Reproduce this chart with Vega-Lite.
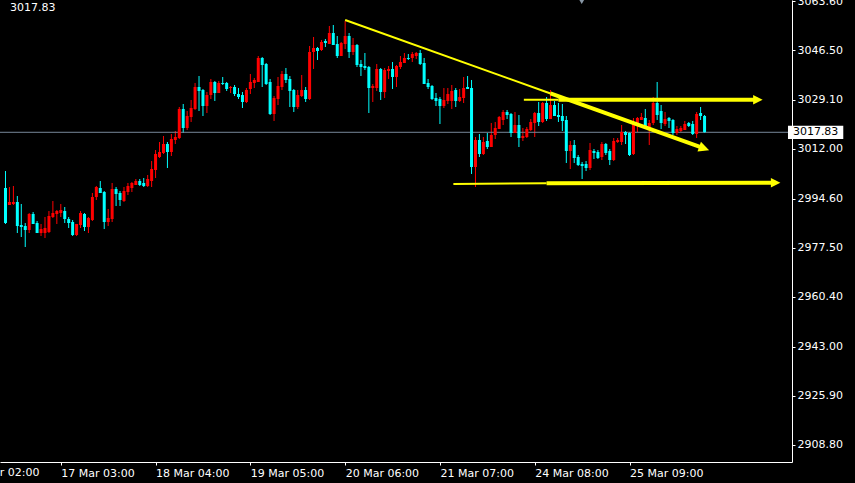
{
  "$schema": "https://vega.github.io/schema/vega-lite/v6.json",
  "width": 792,
  "height": 462,
  "autosize": {"type": "none"},
  "padding": {"left": 0, "top": 0, "right": 63, "bottom": 21},
  "background": "#000000",
  "config": {
    "view": {"stroke": null},
    "axis": {
      "labelFont": "DejaVu Sans",
      "labelFontSize": 11,
      "labelColor": "#ffffff",
      "domainColor": "#ffffff",
      "tickColor": "#ffffff",
      "grid": false,
      "tickSize": 3,
      "labelPadding": 2
    }
  },
  "datasets": {
    "candles": [
      {"t":0,"o":2998.38,"h":3004.31,"l":2985.82,"c":2986.16},
      {"t":1,"o":2992.45,"h":2998.73,"l":2992.45,"c":2993.49},
      {"t":2,"o":2992.80,"h":2999.08,"l":2992.45,"c":2993.49},
      {"t":3,"o":2993.49,"h":2995.59,"l":2982.67,"c":2985.12},
      {"t":4,"o":2985.47,"h":2992.80,"l":2981.28,"c":2984.77},
      {"t":5,"o":2985.12,"h":2986.16,"l":2977.79,"c":2983.72},
      {"t":6,"o":2983.72,"h":2989.65,"l":2982.67,"c":2989.31},
      {"t":7,"o":2989.31,"h":2990.00,"l":2985.82,"c":2985.82},
      {"t":8,"o":2986.16,"h":2986.86,"l":2982.67,"c":2982.67},
      {"t":9,"o":2982.67,"h":2985.82,"l":2981.63,"c":2984.07},
      {"t":10,"o":2982.67,"h":2988.26,"l":2980.93,"c":2984.42},
      {"t":11,"o":2983.02,"h":2990.35,"l":2982.67,"c":2988.61},
      {"t":12,"o":2988.26,"h":2993.84,"l":2987.91,"c":2989.65},
      {"t":13,"o":2989.31,"h":2990.70,"l":2985.82,"c":2990.35},
      {"t":14,"o":2989.65,"h":2992.80,"l":2988.26,"c":2990.70},
      {"t":15,"o":2990.35,"h":2991.75,"l":2986.16,"c":2987.56},
      {"t":16,"o":2987.56,"h":2988.26,"l":2984.42,"c":2986.16},
      {"t":17,"o":2986.51,"h":2987.21,"l":2981.63,"c":2981.98},
      {"t":18,"o":2981.98,"h":2985.82,"l":2981.63,"c":2985.82},
      {"t":19,"o":2985.47,"h":2990.35,"l":2984.42,"c":2989.65},
      {"t":20,"o":2989.31,"h":2989.65,"l":2983.37,"c":2984.77},
      {"t":21,"o":2984.77,"h":2988.26,"l":2982.67,"c":2987.91},
      {"t":22,"o":2987.21,"h":2996.64,"l":2986.86,"c":2995.24},
      {"t":23,"o":2995.24,"h":2999.08,"l":2994.19,"c":2998.73},
      {"t":24,"o":2998.38,"h":3000.82,"l":2996.64,"c":2996.64},
      {"t":25,"o":2996.98,"h":2997.33,"l":2984.07,"c":2986.51},
      {"t":26,"o":2986.51,"h":2991.05,"l":2985.12,"c":2987.91},
      {"t":27,"o":2987.56,"h":3000.13,"l":2986.51,"c":2998.03},
      {"t":28,"o":2998.03,"h":2998.73,"l":2992.10,"c":2996.29},
      {"t":29,"o":2996.64,"h":2997.33,"l":2992.10,"c":2994.19},
      {"t":30,"o":2993.84,"h":2998.73,"l":2993.49,"c":2997.33},
      {"t":31,"o":2996.98,"h":3000.13,"l":2995.94,"c":2999.08},
      {"t":32,"o":2998.38,"h":3000.47,"l":2996.98,"c":3000.13},
      {"t":33,"o":2999.43,"h":3001.52,"l":2999.43,"c":3000.82},
      {"t":34,"o":3000.82,"h":3001.52,"l":2999.08,"c":2999.43},
      {"t":35,"o":3000.13,"h":3001.87,"l":2998.73,"c":2999.08},
      {"t":36,"o":2999.08,"h":3002.92,"l":2998.73,"c":3001.52},
      {"t":37,"o":3000.82,"h":3007.80,"l":2998.73,"c":3005.01},
      {"t":38,"o":3004.66,"h":3011.64,"l":3001.87,"c":3010.25},
      {"t":39,"o":3009.20,"h":3014.44,"l":3008.85,"c":3010.95},
      {"t":40,"o":3010.60,"h":3016.53,"l":3010.25,"c":3013.74},
      {"t":41,"o":3013.74,"h":3014.44,"l":3005.36,"c":3010.95},
      {"t":42,"o":3010.95,"h":3017.23,"l":3009.55,"c":3015.48},
      {"t":43,"o":3015.13,"h":3018.28,"l":3013.74,"c":3016.18},
      {"t":44,"o":3015.83,"h":3026.65,"l":3015.48,"c":3025.95},
      {"t":45,"o":3025.95,"h":3027.70,"l":3017.58,"c":3019.32},
      {"t":46,"o":3019.32,"h":3025.26,"l":3018.62,"c":3023.51},
      {"t":47,"o":3023.16,"h":3029.10,"l":3021.42,"c":3026.30},
      {"t":48,"o":3025.95,"h":3035.03,"l":3025.61,"c":3033.63},
      {"t":49,"o":3033.63,"h":3037.47,"l":3025.26,"c":3032.24},
      {"t":50,"o":3032.59,"h":3032.94,"l":3023.51,"c":3027.00},
      {"t":51,"o":3027.00,"h":3031.89,"l":3024.56,"c":3030.84},
      {"t":52,"o":3030.84,"h":3036.43,"l":3029.45,"c":3035.38},
      {"t":53,"o":3035.38,"h":3035.73,"l":3028.75,"c":3031.54},
      {"t":54,"o":3031.54,"h":3035.73,"l":3031.54,"c":3035.03},
      {"t":55,"o":3035.03,"h":3037.12,"l":3034.33,"c":3034.68},
      {"t":56,"o":3035.03,"h":3035.38,"l":3032.24,"c":3032.94},
      {"t":57,"o":3033.28,"h":3033.98,"l":3031.54,"c":3033.63},
      {"t":58,"o":3033.63,"h":3034.33,"l":3030.49,"c":3031.19},
      {"t":59,"o":3031.19,"h":3033.28,"l":3029.45,"c":3030.14},
      {"t":60,"o":3030.84,"h":3031.89,"l":3026.30,"c":3028.40},
      {"t":61,"o":3028.40,"h":3033.28,"l":3028.05,"c":3032.59},
      {"t":62,"o":3032.94,"h":3038.17,"l":3031.19,"c":3035.38},
      {"t":63,"o":3035.03,"h":3036.77,"l":3033.28,"c":3036.08},
      {"t":64,"o":3035.38,"h":3044.45,"l":3035.38,"c":3043.76},
      {"t":65,"o":3043.76,"h":3044.10,"l":3033.63,"c":3041.31},
      {"t":66,"o":3041.66,"h":3042.01,"l":3034.33,"c":3034.68},
      {"t":67,"o":3035.38,"h":3036.43,"l":3023.86,"c":3024.21},
      {"t":68,"o":3024.21,"h":3030.49,"l":3021.77,"c":3029.79},
      {"t":69,"o":3029.45,"h":3037.12,"l":3027.35,"c":3033.98},
      {"t":70,"o":3033.63,"h":3039.22,"l":3032.59,"c":3038.17},
      {"t":71,"o":3038.17,"h":3040.27,"l":3035.03,"c":3036.08},
      {"t":72,"o":3036.43,"h":3037.47,"l":3026.65,"c":3032.24},
      {"t":73,"o":3032.59,"h":3032.94,"l":3024.91,"c":3026.65},
      {"t":74,"o":3026.65,"h":3032.59,"l":3025.95,"c":3030.84},
      {"t":75,"o":3030.49,"h":3037.82,"l":3030.14,"c":3032.59},
      {"t":76,"o":3032.59,"h":3033.63,"l":3028.40,"c":3029.45},
      {"t":77,"o":3029.45,"h":3047.94,"l":3029.10,"c":3045.85},
      {"t":78,"o":3045.85,"h":3051.09,"l":3039.92,"c":3047.25},
      {"t":79,"o":3047.25,"h":3047.60,"l":3043.06,"c":3046.20},
      {"t":80,"o":3046.55,"h":3050.04,"l":3046.20,"c":3049.34},
      {"t":81,"o":3049.69,"h":3050.39,"l":3047.60,"c":3048.99},
      {"t":82,"o":3048.64,"h":3054.92,"l":3048.64,"c":3052.48},
      {"t":83,"o":3052.48,"h":3055.27,"l":3048.29,"c":3048.29},
      {"t":84,"o":3048.64,"h":3051.43,"l":3043.76,"c":3044.45},
      {"t":85,"o":3044.45,"h":3049.34,"l":3044.45,"c":3048.99},
      {"t":86,"o":3048.64,"h":3056.67,"l":3046.90,"c":3051.43},
      {"t":87,"o":3051.43,"h":3052.48,"l":3043.76,"c":3045.85},
      {"t":88,"o":3045.85,"h":3050.74,"l":3044.80,"c":3048.29},
      {"t":89,"o":3048.29,"h":3048.64,"l":3040.61,"c":3041.31},
      {"t":90,"o":3041.66,"h":3043.06,"l":3037.47,"c":3040.61},
      {"t":91,"o":3040.96,"h":3045.50,"l":3039.57,"c":3040.27},
      {"t":92,"o":3040.61,"h":3040.96,"l":3024.56,"c":3033.28},
      {"t":93,"o":3033.28,"h":3034.68,"l":3028.40,"c":3033.98},
      {"t":94,"o":3033.28,"h":3041.66,"l":3032.24,"c":3039.92},
      {"t":95,"o":3039.92,"h":3040.27,"l":3029.10,"c":3031.89},
      {"t":96,"o":3031.89,"h":3040.27,"l":3029.79,"c":3039.57},
      {"t":97,"o":3039.22,"h":3040.96,"l":3036.43,"c":3039.92},
      {"t":98,"o":3039.92,"h":3042.36,"l":3032.94,"c":3037.12},
      {"t":99,"o":3037.12,"h":3041.31,"l":3033.63,"c":3040.96},
      {"t":100,"o":3040.61,"h":3044.45,"l":3039.92,"c":3042.36},
      {"t":101,"o":3042.01,"h":3045.50,"l":3042.01,"c":3043.76},
      {"t":102,"o":3043.76,"h":3045.15,"l":3043.06,"c":3043.41},
      {"t":103,"o":3043.76,"h":3045.85,"l":3042.36,"c":3045.15},
      {"t":104,"o":3044.45,"h":3045.85,"l":3043.41,"c":3045.50},
      {"t":105,"o":3045.50,"h":3046.55,"l":3041.31,"c":3041.66},
      {"t":106,"o":3042.01,"h":3043.76,"l":3034.68,"c":3034.68},
      {"t":107,"o":3035.03,"h":3036.43,"l":3032.94,"c":3033.63},
      {"t":108,"o":3033.98,"h":3034.33,"l":3029.10,"c":3029.45},
      {"t":109,"o":3029.79,"h":3031.54,"l":3027.00,"c":3028.75},
      {"t":110,"o":3029.45,"h":3030.14,"l":3020.72,"c":3027.00},
      {"t":111,"o":3027.00,"h":3033.28,"l":3026.30,"c":3029.10},
      {"t":112,"o":3028.75,"h":3033.28,"l":3027.70,"c":3031.19},
      {"t":113,"o":3028.75,"h":3034.33,"l":3025.95,"c":3032.24},
      {"t":114,"o":3032.59,"h":3033.28,"l":3026.65,"c":3028.75},
      {"t":115,"o":3028.75,"h":3032.94,"l":3028.40,"c":3030.14},
      {"t":116,"o":3029.79,"h":3037.12,"l":3028.05,"c":3033.28},
      {"t":117,"o":3033.63,"h":3037.47,"l":3032.94,"c":3032.94},
      {"t":118,"o":3033.28,"h":3036.08,"l":3003.27,"c":3005.71},
      {"t":119,"o":3005.71,"h":3016.18,"l":2998.73,"c":3015.13},
      {"t":120,"o":3015.13,"h":3017.23,"l":3009.20,"c":3010.25},
      {"t":121,"o":3010.25,"h":3016.18,"l":3009.90,"c":3014.44},
      {"t":122,"o":3014.79,"h":3017.58,"l":3011.99,"c":3012.69},
      {"t":123,"o":3012.69,"h":3021.07,"l":3012.69,"c":3016.88},
      {"t":124,"o":3016.88,"h":3021.42,"l":3015.48,"c":3019.32},
      {"t":125,"o":3018.97,"h":3023.51,"l":3018.97,"c":3023.16},
      {"t":126,"o":3022.12,"h":3025.61,"l":3020.37,"c":3024.91},
      {"t":127,"o":3024.91,"h":3025.61,"l":3022.46,"c":3023.86},
      {"t":128,"o":3024.21,"h":3024.56,"l":3016.18,"c":3017.58},
      {"t":129,"o":3017.58,"h":3024.91,"l":3017.58,"c":3020.37},
      {"t":130,"o":3020.37,"h":3023.86,"l":3012.69,"c":3015.83},
      {"t":131,"o":3015.83,"h":3019.32,"l":3014.79,"c":3016.53},
      {"t":132,"o":3016.18,"h":3019.67,"l":3015.83,"c":3018.97},
      {"t":133,"o":3018.62,"h":3022.46,"l":3018.28,"c":3021.42},
      {"t":134,"o":3021.07,"h":3024.91,"l":3016.18,"c":3024.56},
      {"t":135,"o":3024.56,"h":3028.40,"l":3020.02,"c":3021.42},
      {"t":136,"o":3021.42,"h":3028.40,"l":3021.07,"c":3028.05},
      {"t":137,"o":3028.05,"h":3030.14,"l":3021.77,"c":3022.46},
      {"t":138,"o":3022.46,"h":3032.59,"l":3022.46,"c":3027.35},
      {"t":139,"o":3027.35,"h":3028.75,"l":3023.51,"c":3023.51},
      {"t":140,"o":3023.86,"h":3028.05,"l":3021.42,"c":3023.16},
      {"t":141,"o":3023.51,"h":3027.70,"l":3018.28,"c":3021.77},
      {"t":142,"o":3022.12,"h":3023.51,"l":3007.11,"c":3011.29},
      {"t":143,"o":3011.29,"h":3014.79,"l":3005.01,"c":3013.39},
      {"t":144,"o":3013.39,"h":3015.13,"l":3007.11,"c":3008.85},
      {"t":145,"o":3009.20,"h":3009.90,"l":3006.06,"c":3006.41},
      {"t":146,"o":3006.76,"h":3007.46,"l":3001.52,"c":3006.06},
      {"t":147,"o":3006.76,"h":3007.80,"l":3004.31,"c":3005.36},
      {"t":148,"o":3005.36,"h":3014.09,"l":3004.66,"c":3011.64},
      {"t":149,"o":3011.29,"h":3011.99,"l":3008.50,"c":3010.60},
      {"t":150,"o":3010.95,"h":3011.64,"l":3008.50,"c":3008.85},
      {"t":151,"o":3009.20,"h":3014.44,"l":3008.15,"c":3013.74},
      {"t":152,"o":3013.74,"h":3014.09,"l":3009.90,"c":3010.60},
      {"t":153,"o":3011.29,"h":3011.99,"l":3006.41,"c":3008.15},
      {"t":154,"o":3008.15,"h":3015.83,"l":3007.80,"c":3014.79},
      {"t":155,"o":3014.44,"h":3015.83,"l":3014.09,"c":3015.13},
      {"t":156,"o":3014.44,"h":3020.37,"l":3013.39,"c":3017.93},
      {"t":157,"o":3017.93,"h":3018.28,"l":3013.74,"c":3016.88},
      {"t":158,"o":3017.58,"h":3017.93,"l":3009.55,"c":3009.90},
      {"t":159,"o":3010.25,"h":3022.81,"l":3009.90,"c":3020.72},
      {"t":160,"o":3021.07,"h":3023.16,"l":3017.93,"c":3022.81},
      {"t":161,"o":3022.12,"h":3024.56,"l":3022.12,"c":3023.16},
      {"t":162,"o":3022.81,"h":3025.95,"l":3019.32,"c":3020.02},
      {"t":163,"o":3019.67,"h":3022.12,"l":3013.39,"c":3021.07},
      {"t":164,"o":3021.07,"h":3030.14,"l":3020.37,"c":3028.05},
      {"t":165,"o":3028.05,"h":3035.38,"l":3022.12,"c":3023.86},
      {"t":166,"o":3025.26,"h":3027.35,"l":3018.97,"c":3021.07},
      {"t":167,"o":3020.72,"h":3024.91,"l":3020.02,"c":3022.46},
      {"t":168,"o":3022.81,"h":3023.16,"l":3019.32,"c":3021.77},
      {"t":169,"o":3022.12,"h":3022.46,"l":3016.88,"c":3017.58},
      {"t":170,"o":3017.58,"h":3020.02,"l":3016.88,"c":3018.97},
      {"t":171,"o":3018.28,"h":3020.02,"l":3017.93,"c":3019.32},
      {"t":172,"o":3018.62,"h":3021.77,"l":3018.62,"c":3020.72},
      {"t":173,"o":3021.07,"h":3021.42,"l":3019.67,"c":3020.02},
      {"t":174,"o":3020.72,"h":3021.77,"l":3016.88,"c":3017.23},
      {"t":175,"o":3017.23,"h":3024.91,"l":3015.83,"c":3024.21},
      {"t":176,"o":3024.56,"h":3026.65,"l":3022.12,"c":3023.51},
      {"t":177,"o":3023.51,"h":3023.86,"l":3017.58,"c":3017.83}
    ],
    "last": [{"p": 3017.83}],
    "thinLines": [
      {"line": "trend", "t": 86, "p": 3057.02},
      {"line": "trend", "t": 138, "p": 3031.37},
      {"line": "resistance", "t": 131.25, "p": 3029.15},
      {"line": "resistance", "t": 140, "p": 3029.15},
      {"line": "support", "t": 113.4, "p": 2999.78},
      {"line": "support", "t": 137, "p": 3000.02}
    ],
    "thickLines": [
      {"line": "trend", "t": 138, "p": 3031.37},
      {"line": "trend", "t": 176.9, "p": 3012.20},
      {"line": "resistance", "t": 140, "p": 3029.15},
      {"line": "resistance", "t": 190.5, "p": 3029.15},
      {"line": "support", "t": 137, "p": 3000.02},
      {"line": "support", "t": 195, "p": 3000.20}
    ],
    "flatArrows": [
      {"line": "resistance", "t": 190.5, "p": 3029.15},
      {"line": "support", "t": 195, "p": 3000.20}
    ],
    "slopeArrows": [
      {"line": "trend", "t": 176.9, "p": 3012.20}
    ]
  },
  "layer": [
    {
      "data": {"name": "candles"},
      "mark": {"type": "rule", "strokeWidth": 1},
      "encoding": {
        "x": {
          "field": "t", "type": "quantitative", "title": null,
          "scale": {"domain": [-0.125, 197.875], "nice": false, "zero": false},
          "axis": {
            "orient": "bottom",
            "values": [14, 38, 62, 86, 110, 134, 158],
            "labelExpr": "['17 Mar 03:00','18 Mar 04:00','19 Mar 05:00','20 Mar 06:00','21 Mar 07:00','24 Mar 08:00','25 Mar 09:00'][round((datum.value-14)/24)]",
            "labelFont": "DejaVu Sans",
            "labelFontSize": 11,
            "labelColor": "#ffffff",
            "labelAlign": "left",
            "labelBaseline": "top",
            "labelPadding": 2,
            "tickSize": 3,
            "labelFlush": false,
            "labelOverlap": false,
            "labelBound": false,
            "labelLimit": 200
          }
        },
        "y": {
          "field": "l", "type": "quantitative", "title": null,
          "scale": {"domain": [2902.75, 3064.0], "nice": false, "zero": false},
          "axis": {
            "orient": "right",
            "values": [3063.6, 3046.5, 3029.1, 3012.0, 2994.6, 2977.5, 2960.4, 2943.0, 2925.9, 2908.8],
            "format": ".2f",
            "labelFont": "DejaVu Sans",
            "labelFontSize": 11,
            "labelColor": "#ffffff",
            "labelPadding": 2,
            "tickSize": 3,
            "labelOverlap": false,
            "labelFlush": false,
            "labelBound": false
          }
        },
        "y2": {"field": "h"},
        "color": {"condition": {"test": "datum.c > datum.o", "value": "#ff0000"}, "value": "#00ffff"}
      }
    },
    {
      "data": {"name": "last"},
      "mark": {"type": "rule", "color": "#778899", "strokeWidth": 1},
      "encoding": {
        "y": {"field": "p", "type": "quantitative", "title": null, "scale": {"domain": [2902.75, 3064.0], "nice": false, "zero": false}}
      }
    },
    {
      "data": {"name": "candles"},
      "mark": {"type": "bar", "size": 3, "orient": "vertical"},
      "encoding": {
        "x": {"field": "t", "type": "quantitative", "title": null, "scale": {"domain": [-0.125, 197.875], "nice": false, "zero": false}},
        "y": {"field": "o", "type": "quantitative", "title": null, "scale": {"domain": [2902.75, 3064.0], "nice": false, "zero": false}},
        "y2": {"field": "c"},
        "color": {"condition": {"test": "datum.c > datum.o", "value": "#ff0000"}, "value": "#00ffff"}
      }
    },
    {
      "data": {"name": "thinLines"},
      "mark": {"type": "line", "color": "#ffff00", "strokeWidth": 2},
      "encoding": {
        "x": {"field": "t", "type": "quantitative", "title": null, "scale": {"domain": [-0.125, 197.875], "nice": false, "zero": false}},
        "y": {"field": "p", "type": "quantitative", "title": null, "scale": {"domain": [2902.75, 3064.0], "nice": false, "zero": false}},
        "detail": {"field": "line", "type": "nominal"}
      }
    },
    {
      "data": {"name": "thickLines"},
      "mark": {"type": "line", "color": "#ffff00", "strokeWidth": 4},
      "encoding": {
        "x": {"field": "t", "type": "quantitative", "title": null, "scale": {"domain": [-0.125, 197.875], "nice": false, "zero": false}},
        "y": {"field": "p", "type": "quantitative", "title": null, "scale": {"domain": [2902.75, 3064.0], "nice": false, "zero": false}},
        "detail": {"field": "line", "type": "nominal"}
      }
    },
    {
      "data": {"name": "flatArrows"},
      "mark": {"type": "point", "shape": "M-1,-1L1,0L-1,1Z", "filled": true, "color": "#ffff00", "opacity": 1, "size": 90, "strokeWidth": 0},
      "encoding": {
        "x": {"field": "t", "type": "quantitative", "title": null, "scale": {"domain": [-0.125, 197.875], "nice": false, "zero": false}},
        "y": {"field": "p", "type": "quantitative", "title": null, "scale": {"domain": [2902.75, 3064.0], "nice": false, "zero": false}}
      }
    },
    {
      "data": {"name": "slopeArrows"},
      "mark": {"type": "point", "shape": "M-1,-1L1,0L-1,1Z", "filled": true, "color": "#ffff00", "opacity": 1, "size": 110, "angle": 19.4, "strokeWidth": 0},
      "encoding": {
        "x": {"field": "t", "type": "quantitative", "title": null, "scale": {"domain": [-0.125, 197.875], "nice": false, "zero": false}},
        "y": {"field": "p", "type": "quantitative", "title": null, "scale": {"domain": [2902.75, 3064.0], "nice": false, "zero": false}}
      }
    },
    {
      "data": {"values": [{"marker": "shift"}]},
      "mark": {"type": "point", "shape": "triangle-down", "filled": true, "color": "#8796a5", "opacity": 1, "size": 90},
      "encoding": {
        "x": {"datum": 145.9, "type": "quantitative", "title": null, "scale": {"domain": [-0.125, 197.875], "nice": false, "zero": false}},
        "y": {"datum": 3064.0, "type": "quantitative", "title": null, "scale": {"domain": [2902.75, 3064.0], "nice": false, "zero": false}}
      }
    },
    {
      "data": {"name": "last"},
      "mark": {"type": "rect", "color": "#ffffff"},
      "encoding": {
        "x": {"datum": 198.125, "type": "quantitative", "title": null, "scale": {"domain": [-0.125, 197.875], "nice": false, "zero": false}},
        "x2": {"datum": 212.125},
        "y": {"datum": 3020.13, "type": "quantitative", "title": null, "scale": {"domain": [2902.75, 3064.0], "nice": false, "zero": false}},
        "y2": {"datum": 3015.48}
      }
    },
    {
      "data": {"name": "last"},
      "mark": {"type": "text", "align": "center", "baseline": "middle", "color": "#000000", "font": "DejaVu Sans", "fontSize": 11},
      "encoding": {
        "x": {"datum": 205.125, "type": "quantitative", "title": null, "scale": {"domain": [-0.125, 197.875], "nice": false, "zero": false}},
        "y": {"field": "p", "type": "quantitative", "title": null, "scale": {"domain": [2902.75, 3064.0], "nice": false, "zero": false}},
        "text": {"field": "p", "type": "quantitative", "format": ".2f"}
      }
    },
    {
      "data": {"name": "last"},
      "mark": {"type": "text", "align": "left", "baseline": "middle", "color": "#ffffff", "font": "DejaVu Sans", "fontSize": 11},
      "encoding": {
        "x": {"datum": 1.125, "type": "quantitative", "title": null, "scale": {"domain": [-0.125, 197.875], "nice": false, "zero": false}},
        "y": {"datum": 3061.2, "type": "quantitative", "title": null, "scale": {"domain": [2902.75, 3064.0], "nice": false, "zero": false}},
        "text": {"field": "p", "type": "quantitative", "format": ".2f"}
      }
    },
    {
      "data": {"values": [{"label": "14 Mar 02:00"}]},
      "mark": {"type": "text", "align": "left", "baseline": "top", "color": "#ffffff", "font": "DejaVu Sans", "fontSize": 11},
      "encoding": {
        "x": {"datum": -10, "type": "quantitative", "title": null, "scale": {"domain": [-0.125, 197.875], "nice": false, "zero": false}},
        "y": {"datum": 2900.9, "type": "quantitative", "title": null, "scale": {"domain": [2902.75, 3064.0], "nice": false, "zero": false}},
        "text": {"field": "label", "type": "nominal"}
      }
    }
  ]
}
